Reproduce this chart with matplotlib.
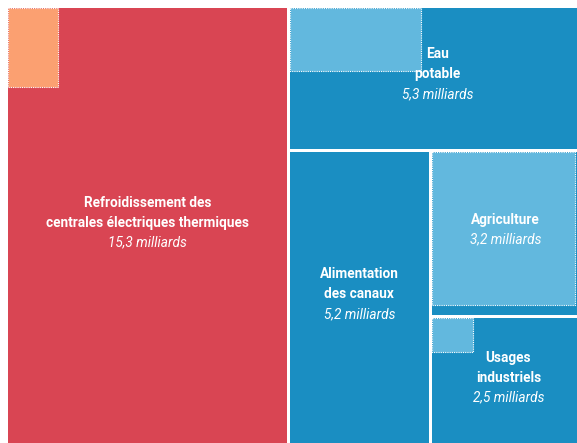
import numpy as np
import matplotlib.pyplot as plt
from matplotlib.patches import Rectangle

# usages de l'eau (milliards de m3)
labels = ["Refroidissement des\ncentrales électriques thermiques",
          "Eau\npotable",
          "Alimentation\ndes canaux",
          "Agriculture",
          "Usages\nindustriels"]
values = [15.3, 5.3, 5.2, 3.2, 2.5]
values_txt = ["15,3 milliards", "5,3 milliards", "5,2 milliards",
              "3,2 milliards", "2,5 milliards"]
# part consommée (carré intérieur)
inner = [0.5, 1.05, 0.0, 2.8, 0.18]

main_colors = ["#D94553", "#1A8EC2", "#1A8EC2", "#1A8EC2", "#1A8EC2"]
inner_colors = ["#FBA071", "#62B8DE", "#62B8DE", "#62B8DE", "#62B8DE"]


def layout(vals, x, y, w, h):
    # premier élément contre le reste, coupé sur le côté le plus long
    rects = []
    vals = list(vals)
    while vals:
        total = sum(vals)
        if len(vals) == 1:
            rects.append((x, y, w, h))
            break
        f = vals[0] / total
        if w >= h:
            rects.append((x, y, w * f, h))
            x, w = x + w * f, w * (1 - f)
        else:
            rects.append((x, y, w, h * f))
            y, h = y + h * f, h * (1 - f)
        vals = vals[1:]
    return rects


fig = plt.figure(figsize=(5.77, 4.43), dpi=100)
ax = fig.add_axes([0, 0, 1, 1])
ax.set_xlim(0, 577)
ax.set_ylim(443, 0)
ax.axis("off")

gap = 3
rects = layout(values, 6.5, 6.5, 580, 440)
font = "Roboto"

for i, (x, y, w, h) in enumerate(rects):
    x0, y0, w0, h0 = x + gap / 2, y + gap / 2, w - gap, h - gap
    ax.add_patch(Rectangle((x0, y0), w0, h0, facecolor=main_colors[i],
                           edgecolor="none"))
    if inner[i] > 0:
        s = np.sqrt(inner[i] / values[i])
        ax.add_patch(Rectangle((x0, y0), w0 * s, h0 * s,
                               facecolor=inner_colors[i], edgecolor="white",
                               linewidth=0.8, linestyle=(0, (1, 1))))
    cx = x0 + w0 / 2
    cy = y0 + h0 / 2 - 4
    if i == 3:
        cx -= 3
    nlines = labels[i].count("\n") + 1
    top = cy - (nlines) * 20 / 2
    for k, line in enumerate(labels[i].split("\n")):
        ax.text(cx, top + k * 20, line, ha="center", va="center",
                color="white", fontsize=9.8, fontweight="bold", family=font)
    ax.text(cx, top + nlines * 20, values_txt[i], ha="center", va="center",
            color="white", fontsize=9.8, fontstyle="italic", family=font)

fig.savefig("out.png", dpi=100)
